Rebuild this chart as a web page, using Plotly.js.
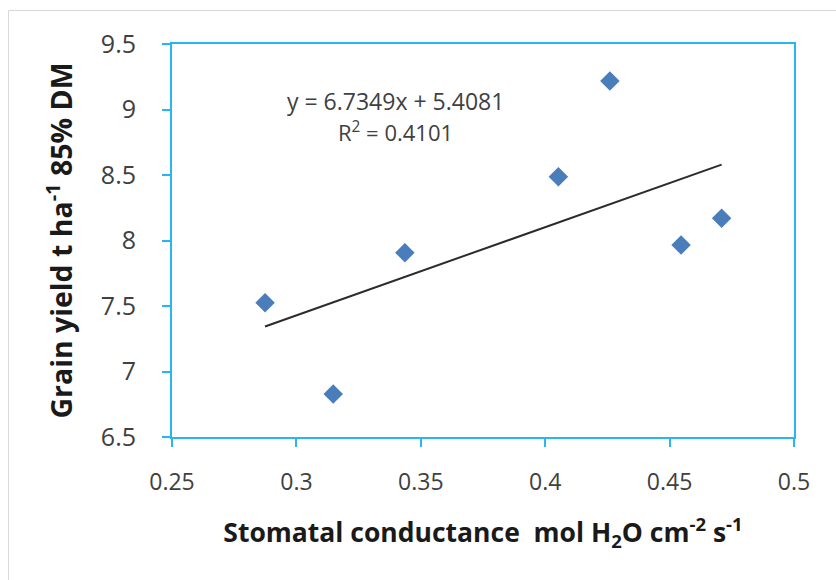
<!DOCTYPE html>
<html>
<head>
<meta charset="utf-8">
<script src="https://cdn.plot.ly/plotly-3.0.1.min.js"></script>
<style>html,body{margin:0;padding:0;background:#fff;}#chart{width:836px;height:580px;}</style>
</head>
<body>
<div id="chart"></div>
<script>
// Data
var conductance = [0.2874, 0.3148, 0.3436, 0.4053, 0.4260, 0.4546, 0.4709];
var grainYield = [7.525, 6.828, 7.907, 8.487, 9.218, 7.966, 8.169];
var slope = 6.7349;
var intercept = 5.4081;
var rSquared = 0.4101;
var xTicks = [0.25, 0.3, 0.35, 0.4, 0.45, 0.5];
var xTickText = ['0.25', '0.3', '0.35', '0.4', '0.45', '0.5'];
var yTicks = [6.5, 7, 7.5, 8, 8.5, 9, 9.5];
var yTickText = ['6.5', '7', '7.5', '8', '8.5', '9', '9.5'];

var xMin = Math.min.apply(null, conductance);
var xMax = Math.max.apply(null, conductance);
var trendX = [xMin, xMax];
var trendY = trendX.map(function (x) { return slope * x + intercept; });

var axisColor = '#29b6ef';
var font = 'Open Sans, Lato, sans-serif';

var traces = [
  {
    x: trendX, y: trendY, mode: 'lines', type: 'scatter',
    line: {color: '#2b2b2b', width: 2}, hoverinfo: 'skip', showlegend: false
  },
  {
    x: conductance, y: grainYield, mode: 'markers', type: 'scatter',
    marker: {symbol: 'diamond', size: 15, color: '#4a7ebb'}, showlegend: false
  }
];

var layout = {
  width: 836, height: 580,
  margin: {l: 172, r: 42, t: 44, b: 143},
  paper_bgcolor: '#fff', plot_bgcolor: '#fff',
  showlegend: false,
  font: {family: font, color: '#404040'},
  xaxis: {
    range: [0.25, 0.5], tickvals: xTicks, ticktext: xTickText,
    showgrid: false, zeroline: false,
    showline: true, linecolor: axisColor, linewidth: 2, mirror: true,
    ticks: 'outside', ticklen: 8, tickwidth: 2, tickcolor: axisColor,
    ticklabelstandoff: 15,
    tickfont: {size: 23, color: '#404040', family: font},
    title: {
      text: '<b>Stomatal conductance  mol H<sub>2</sub>O cm<sup>-2</sup> s<sup>-1</sup></b>',
      font: {size: 26.5, color: '#1a1a1a', family: font}, standoff: 28
    }
  },
  yaxis: {
    range: [6.5, 9.5], tickvals: yTicks, ticktext: yTickText,
    showgrid: false, zeroline: false,
    showline: true, linecolor: axisColor, linewidth: 2, mirror: true,
    ticks: 'outside', ticklen: 8, tickwidth: 2, tickcolor: axisColor,
    ticklabelstandoff: 21,
    tickfont: {size: 25, color: '#404040', family: font},
    title: {
      text: '<b>Grain yield t ha<sup>-1</sup> 85% DM</b>',
      font: {size: 28.5, color: '#1a1a1a', family: font}, standoff: 20
    }
  },
  annotations: [
    {
      xref: 'paper', yref: 'paper', x: (395 - 172) / 622, y: (437 - 101) / 393,
      text: 'y = ' + slope.toFixed(4) + 'x + ' + intercept.toFixed(4),
      showarrow: false, xanchor: 'center', yanchor: 'middle',
      font: {size: 23, color: '#404040', family: font}
    },
    {
      xref: 'paper', yref: 'paper', x: (395 - 172) / 622, y: (437 - 131) / 393,
      text: 'R<sup>2</sup> = ' + rSquared.toFixed(4),
      showarrow: false, xanchor: 'center', yanchor: 'middle',
      font: {size: 22, color: '#404040', family: font}
    }
  ],
  shapes: [
    {type: 'line', xref: 'paper', yref: 'paper',
     x0: (8.5 - 172) / 622, x1: (8.5 - 172) / 622, y0: (437 - 10.5) / 393, y1: (437 - 600) / 393,
     line: {color: '#d9d9d9', width: 1}},
    {type: 'line', xref: 'paper', yref: 'paper',
     x0: (8.5 - 172) / 622, x1: (900 - 172) / 622, y0: (437 - 10.5) / 393, y1: (437 - 10.5) / 393,
     line: {color: '#d9d9d9', width: 1}}
  ]
};

Plotly.newPlot('chart', traces, layout, {displayModeBar: false, staticPlot: true});
</script>
</body>
</html>
